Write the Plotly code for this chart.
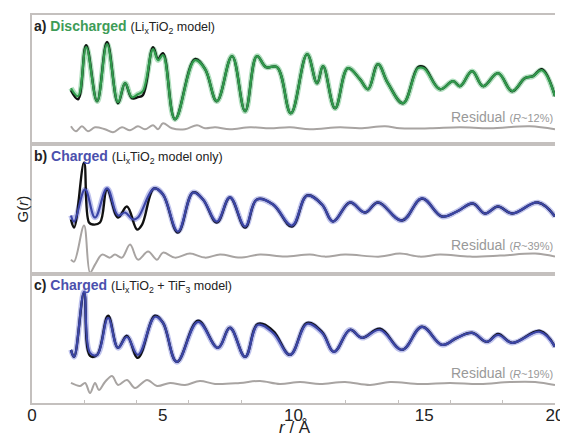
import plotly.graph_objects as go
from plotly.subplots import make_subplots

# ---------------- data (G(r) in arbitrary units) ----------------
r_a = [1.49, 1.76, 2.07, 2.49, 2.87, 3.29, 3.56, 3.82, 4.05, 4.24, 4.63, 4.82, 5.01, 5.47,
       6.23, 6.62, 7.07, 7.65, 8.15, 8.60, 8.95, 9.37, 9.90, 10.52, 10.90, 11.13, 11.59,
       12.08, 12.54, 12.85, 13.23, 13.61, 14.19, 14.76, 14.99, 15.60, 16.10, 16.37, 16.83,
       17.25, 17.82, 18.36, 18.85, 19.16, 19.50, 20.0]
Gcalc_a = [56, 48, 97, 43, 100, 42, 61, 47, 50, 53, 95, 84, 89, 25,
           84, 75, 43, 88, 33, 88, 77, 77, 31, 90, 61, 78, 36,
           76, 65, 55, 80, 61, 41, 76, 76, 55, 63, 58, 73,
           58, 71, 53, 66, 68, 74, 48]
Gobs_a = [54, 45, 99, 43, 102, 41, 61, 46, 47, 49, 97, 85, 91, 25,
          85, 75, 43, 88, 33, 88, 77, 77, 31, 90, 61, 78, 36,
          76, 65, 55, 80, 61, 41, 77, 77, 55, 63, 58, 73,
          58, 71, 53, 66, 68, 75, 48]
rres_a = [1.49, 1.68, 1.91, 2.14, 2.41, 2.79, 3.10, 3.44, 3.75, 4.05, 4.32, 4.63, 4.82, 5.01,
          5.35, 5.85, 6.31, 6.62, 7.0, 7.57, 8.34, 9.10, 9.87, 10.63, 11.78, 12.54, 13.50,
          14.07, 15.22, 16.37, 17.51, 19.04, 20.0]
Gres_a = [18, 13, 18, 13, 17, 15, 12, 17, 14, 18, 15, 19, 15, 21,
          16, 15, 19, 16, 17, 15, 17, 16, 17, 15, 17, 16, 18,
          16, 16, 17, 16, 18, 15]

r_b = [1.49, 1.61, 1.99, 2.18, 2.33, 2.60, 2.87, 3.29, 3.63, 4.02, 4.21, 4.67, 5.01, 5.58,
       6.16, 6.54, 7.07, 7.57, 8.15, 8.60, 9.22, 9.94, 10.52, 11.09, 11.51, 12.16, 12.73,
       13.23, 14.15, 14.91, 15.68, 16.25, 16.86, 17.32, 17.82, 18.36, 19.35, 20.0]
Gobs_b = [54, 46, 111, 51, 49, 51, 84, 56, 67, 44, 49, 85, 79, 41,
          81, 74, 51, 76, 46, 74, 69, 47, 78, 69, 52, 71, 61,
          71, 53, 75, 57, 62, 70, 60, 67, 60, 71, 57]
rcalc_b = [1.49, 1.61, 2.03, 2.41, 2.87, 3.29, 3.56, 3.86, 4.05, 4.67, 5.01, 5.58,
           6.16, 6.54, 7.07, 7.57, 8.15, 8.60, 9.22, 9.94, 10.52, 11.09, 11.51, 12.16, 12.73,
           13.23, 14.15, 14.91, 15.68, 16.25, 16.86, 17.32, 17.82, 18.36, 19.35, 20.0]
Gcalc_b = [58, 52, 84, 56, 85, 58, 61, 54, 56, 85, 79, 42,
           81, 74, 52, 76, 47, 74, 69, 48, 78, 69, 52, 71, 61,
           71, 53, 75, 57, 62, 70, 60, 67, 60, 71, 57]
rres_b = [1.49, 1.61, 1.99, 2.22, 2.41, 2.68, 2.98, 3.17, 3.44, 3.75, 4.05, 4.44, 4.78, 5.01,
          5.47, 6.04, 6.62, 7.19, 7.95, 8.72, 9.67, 10.63, 11.2, 11.97, 13.31, 14.07, 14.84,
          15.60, 16.75, 17.9, 19.24, 20.0]
Gres_b = [14, 12, 48, 1, 9, 19, 16, 19, 16, 29, 14, 22, 14, 21,
          16, 20, 16, 19, 16, 19, 17, 19, 17, 19, 17, 20, 17,
          19, 17, 18, 20, 17]

r_c = [1.49, 1.61, 1.99, 2.22, 2.49, 2.91, 3.29, 3.63, 4.05, 4.70, 5.01, 5.54, 6.35, 7.11,
       7.57, 8.15, 8.64, 9.22, 9.87, 10.52, 11.09, 11.55, 12.16, 12.62, 13.31, 14.15, 14.91,
       15.68, 16.25, 16.83, 17.40, 17.82, 18.36, 19.43, 20.0]
Gcalc_c = [53, 46, 111, 50, 48, 85, 55, 66, 48, 86, 80, 41, 81, 55,
           75, 46, 78, 70, 48, 79, 70, 51, 73, 65, 73, 53, 76,
           58, 65, 70, 61, 68, 60, 71, 56]
Gobs_c = [53, 46, 110, 47, 48, 87, 55, 67, 45, 87, 80, 41, 82, 55,
          75, 46, 79, 72, 48, 80, 71, 51, 73, 65, 74, 53, 76,
          58, 65, 70, 61, 69, 60, 72, 56]
rres_c = [1.49, 1.84, 2.03, 2.22, 2.41, 2.56, 2.79, 3.06, 3.29, 3.63, 3.94, 4.40, 4.78, 5.28,
          5.85, 6.42, 7.0, 7.95, 8.72, 9.48, 10.25, 11.01, 11.97, 12.93, 13.69, 14.84, 15.98,
          17.13, 18.28, 19.24, 20.0]
Gres_c = [20, 17, 20, 10, 20, 13, 21, 27, 18, 23, 15, 23, 17, 20,
          18, 22, 19, 20, 22, 19, 21, 19, 21, 18, 21, 19, 20,
          19, 21, 21, 18]

x_ticks = [0, 5, 10, 15, 20]
panel_titles = [
    "<b>a) <span style='color:#3d9c57'>Discharged</span></b> <span style='font-size:12.5px'>(Li<sub>x</sub>TiO<sub>2</sub> model)</span>",
    "<b>b) <span style='color:#4b50ad'>Charged</span></b> <span style='font-size:12.5px'>(Li<sub>x</sub>TiO<sub>2</sub> model only)</span>",
    "<b>c) <span style='color:#4b50ad'>Charged</span></b> <span style='font-size:12.5px'>(Li<sub>x</sub>TiO<sub>2</sub> + TiF<sub>3</sub> model)</span>",
]
residual_labels = ["12%", "39%", "19%"]

# ---------------- figure ----------------
FONT = "Liberation Sans, Arial, sans-serif"
GREEN, GREEN_HALO = "#2f9a4b", "rgba(80,185,110,0.45)"
BLUE, BLUE_HALO = "#3b45a6", "rgba(110,120,215,0.45)"
GRAY = "#a8a4a2"

fig = make_subplots(rows=3, cols=1, shared_xaxes=True, vertical_spacing=0)

panels = [
    (r_a, Gobs_a, r_a, Gcalc_a, rres_a, Gres_a, GREEN, GREEN_HALO),
    (r_b, Gobs_b, rcalc_b, Gcalc_b, rres_b, Gres_b, BLUE, BLUE_HALO),
    (r_c, Gobs_c, r_c, Gcalc_c, rres_c, Gres_c, BLUE, BLUE_HALO),
]
for i, (ro, go_, rc, gc, rr, gr, col, halo) in enumerate(panels, start=1):
    fig.add_trace(go.Scatter(x=rc, y=gc, mode="lines", line=dict(color=halo, width=5.5, shape="spline", smoothing=1.1),
                             hoverinfo="skip"), row=i, col=1)
    fig.add_trace(go.Scatter(x=ro, y=go_, mode="lines", line=dict(color="#111111", width=2.4, shape="spline", smoothing=1.1)),
                  row=i, col=1)
    fig.add_trace(go.Scatter(x=rc, y=gc, mode="lines", line=dict(color=col, width=2.2, shape="spline", smoothing=1.1)),
                  row=i, col=1)
    fig.add_trace(go.Scatter(x=rr, y=gr, mode="lines", line=dict(color=GRAY, width=2, shape="spline", smoothing=1.0)),
                  row=i, col=1)

for i in range(1, 4):
    fig.update_yaxes(range=[0, 129], showticklabels=False, ticks="", showgrid=False, zeroline=False,
                     showline=True, linecolor="#c4c0be", linewidth=1.5, fixedrange=True, row=i, col=1)
    fig.update_xaxes(range=[0, 20], showgrid=False, zeroline=False, showline=True, mirror=True,
                     linecolor="#c4c0be", linewidth=1.5, ticks="", row=i, col=1)

fig.update_xaxes(tickvals=x_ticks, ticktext=[str(v) for v in x_ticks], ticks="", showticklabels=True,
                 tickfont=dict(family=FONT, size=17, color="#222222"), ticklabelstandoff=-4,
                 minor=dict(tickvals=[2, 4, 6, 8, 12, 14, 16, 18], ticks="inside", ticklen=3,
                            tickcolor="#c4c0be", tickwidth=1),
                 row=3, col=1)

ann = []
title_y = [0.969, 0.634, 0.302]
res_y = [0.737, 0.407, 0.077]
for t, ty, lab, ry in zip(panel_titles, title_y, residual_labels, res_y):
    ann.append(dict(text=t, x=0.0, y=ty, xref="paper", yref="paper", xanchor="left", yanchor="middle",
                    showarrow=False, font=dict(family=FONT, size=14, color="#222222")))
    ann.append(dict(text="Residual <span style='font-size:11px'>(<i>R</i>~" + lab + ")</span>",
                    x=1.0, y=ry, xref="paper", yref="paper", xanchor="right", yanchor="middle",
                    showarrow=False, font=dict(family=FONT, size=14, color="#999999")))
ann.append(dict(text="<i>r</i> / Å", x=0.503, y=-0.064, xref="paper", yref="paper", xanchor="center",
                yanchor="middle", showarrow=False, font=dict(family=FONT, size=17, color="#222222")))
ann.append(dict(text="G(<i>r</i>)", x=-0.02, y=0.5, xref="paper", yref="paper", xanchor="center",
                yanchor="middle", textangle=-90, showarrow=False, font=dict(family=FONT, size=15, color="#222222")))

# the page body adds an 8 px offset, so the figure is 8 px smaller and margins shifted accordingly
fig.update_layout(width=560, height=427, margin=dict(l=24, r=13, t=7, b=32, autoexpand=False),
                  paper_bgcolor="white", plot_bgcolor="white", showlegend=False, annotations=ann)

fig.write_html("out.html")
